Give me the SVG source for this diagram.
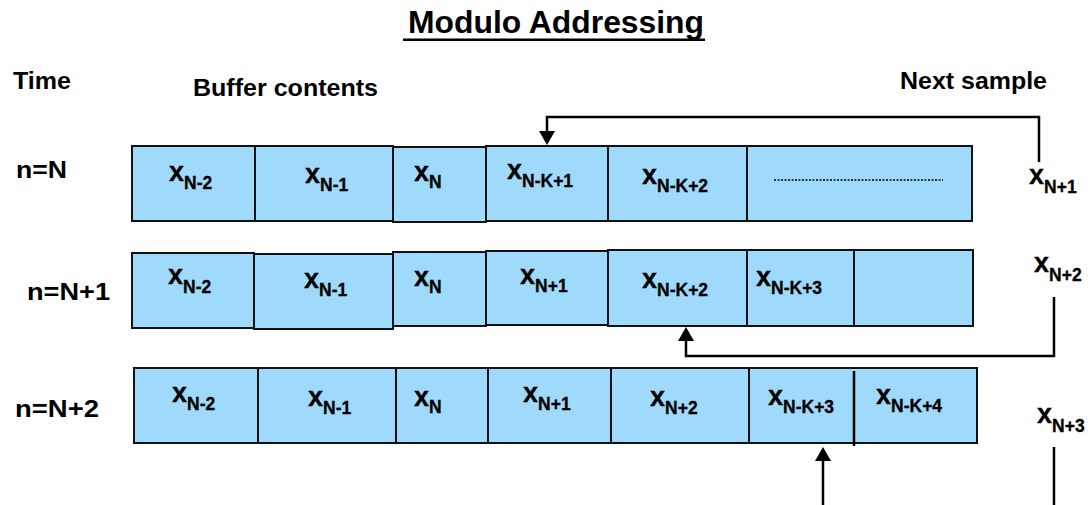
<svg xmlns="http://www.w3.org/2000/svg" width="1088" height="505" viewBox="0 0 1088 505">
  <style>
    .lbl { font-family: "Liberation Sans", Arial, sans-serif; font-weight: bold; fill: #000; }
    .head { font-size: 24px; }
    .title { font-size: 32px; }
    .cell { fill: #9fd9fb; stroke: #111; stroke-width: 2; }
    .var { font-family: "Liberation Sans", Arial, sans-serif; font-weight: bold; font-size: 27px; fill: #000; stroke: #000; stroke-width: 0.3; }
    .sub { font-size: 17.5px; }
    .wire { fill: none; stroke: #000; stroke-width: 2.5; }
  </style>
  <defs>
    <marker id="arrow" markerUnits="userSpaceOnUse" viewBox="0 0 14 16" markerWidth="14" markerHeight="16" refX="0" refY="8" orient="auto">
      <path d="M0,0 L14,8 L0,16 Z" fill="#000"/>
    </marker>
  </defs>

  <rect width="1088" height="505" fill="#fff"/>

  <!-- headings -->
  <g id="title">
    <text class="lbl title" x="408" y="33" textLength="296" lengthAdjust="spacingAndGlyphs">Modulo Addressing</text>
    <rect x="403" y="38.5" width="302" height="2.5" fill="#000"/>
  </g>
  <g id="headings">
    <text class="lbl head" x="13" y="89" textLength="58" lengthAdjust="spacingAndGlyphs">Time</text>
    <text class="lbl head" x="193" y="96" textLength="185" lengthAdjust="spacingAndGlyphs">Buffer contents</text>
    <text class="lbl head" x="900" y="89" textLength="147" lengthAdjust="spacingAndGlyphs">Next sample</text>
  </g>

  <!-- time step labels -->
  <g id="time-labels">
    <text class="lbl head" x="16" y="178" textLength="51" lengthAdjust="spacingAndGlyphs">n=N</text>
    <text class="lbl head" x="27" y="300" textLength="83" lengthAdjust="spacingAndGlyphs">n=N+1</text>
    <text class="lbl head" x="15" y="417" textLength="84" lengthAdjust="spacingAndGlyphs">n=N+2</text>
  </g>

  <!-- buffer at n=N -->
  <g id="row-n">
    <rect class="cell" x="132" y="146" width="123" height="75"/>
    <rect class="cell" x="255" y="146" width="138" height="75"/>
    <rect class="cell" x="393" y="147" width="93" height="75"/>
    <rect class="cell" x="486" y="146" width="122" height="75"/>
    <rect class="cell" x="608" y="146" width="139" height="75"/>
    <rect class="cell" x="747" y="146" width="225" height="75"/>
    <line x1="774" y1="180" x2="943" y2="180" stroke="#000" stroke-width="1.3" stroke-dasharray="2 1.5"/>
    <text class="var" x="169" y="181">x<tspan class="sub" dy="7.5">N-2</tspan></text>
    <text class="var" x="305" y="183">x<tspan class="sub" dy="8">N-1</tspan></text>
    <text class="var" x="414" y="181">x<tspan class="sub" dy="7">N</tspan></text>
    <text class="var" x="507" y="179">x<tspan class="sub" dy="8">N-K+1</tspan></text>
    <text class="var" x="642" y="184">x<tspan class="sub" dy="8">N-K+2</tspan></text>
  </g>

  <!-- buffer at n=N+1 -->
  <g id="row-n1">
    <rect class="cell" x="132" y="253" width="122" height="75"/>
    <rect class="cell" x="254" y="254" width="139" height="75"/>
    <rect class="cell" x="393" y="252" width="93" height="74"/>
    <rect class="cell" x="486" y="251" width="122" height="74"/>
    <rect class="cell" x="608" y="250" width="139" height="76"/>
    <rect class="cell" x="747" y="250" width="107" height="76"/>
    <rect class="cell" x="854" y="250" width="119" height="76"/>
    <text class="var" x="168" y="284">x<tspan class="sub" dy="9">N-2</tspan></text>
    <text class="var" x="304" y="288">x<tspan class="sub" dy="8">N-1</tspan></text>
    <text class="var" x="414" y="286">x<tspan class="sub" dy="7">N</tspan></text>
    <text class="var" x="520" y="284">x<tspan class="sub" dy="8">N+1</tspan></text>
    <text class="var" x="642" y="288">x<tspan class="sub" dy="8">N-K+2</tspan></text>
    <text class="var" x="756" y="286">x<tspan class="sub" dy="8">N-K+3</tspan></text>
  </g>

  <!-- buffer at n=N+2 -->
  <g id="row-n2">
    <rect class="cell" x="134" y="368" width="124" height="75"/>
    <rect class="cell" x="258" y="368" width="138" height="75"/>
    <rect class="cell" x="396" y="368" width="92" height="75"/>
    <rect class="cell" x="488" y="368" width="123" height="75"/>
    <rect class="cell" x="611" y="368" width="138" height="75"/>
    <rect class="cell" x="749" y="368" width="228" height="75"/>
    <line x1="854" y1="371" x2="854" y2="446" stroke="#000" stroke-width="2.5"/>
    <text class="var" x="172" y="402">x<tspan class="sub" dy="8">N-2</tspan></text>
    <text class="var" x="308" y="406">x<tspan class="sub" dy="8">N-1</tspan></text>
    <text class="var" x="414" y="406">x<tspan class="sub" dy="7">N</tspan></text>
    <text class="var" x="523" y="402">x<tspan class="sub" dy="8">N+1</tspan></text>
    <text class="var" x="650" y="406">x<tspan class="sub" dy="8">N+2</tspan></text>
    <text class="var" x="768" y="405">x<tspan class="sub" dy="8">N-K+3</tspan></text>
    <text class="var" x="876" y="404">x<tspan class="sub" dy="8">N-K+4</tspan></text>
  </g>

  <!-- incoming samples -->
  <g id="samples">
    <text class="var" x="1029" y="184">x<tspan class="sub" dy="9">N+1</tspan></text>
    <text class="var" x="1034" y="272">x<tspan class="sub" dy="9">N+2</tspan></text>
    <text class="var" x="1037" y="423">x<tspan class="sub" dy="9">N+3</tspan></text>
  </g>

  <!-- write-pointer connectors -->
  <g id="connectors">
    <path class="wire" d="M1039 162 V117 H547 V131" marker-end="url(#arrow)"/>
    <path class="wire" d="M1054 297 V356 H686 V341" marker-end="url(#arrow)"/>
    <path class="wire" d="M823 505 V461" marker-end="url(#arrow)"/>
    <path class="wire" d="M1054 447 V505"/>
  </g>
</svg>
